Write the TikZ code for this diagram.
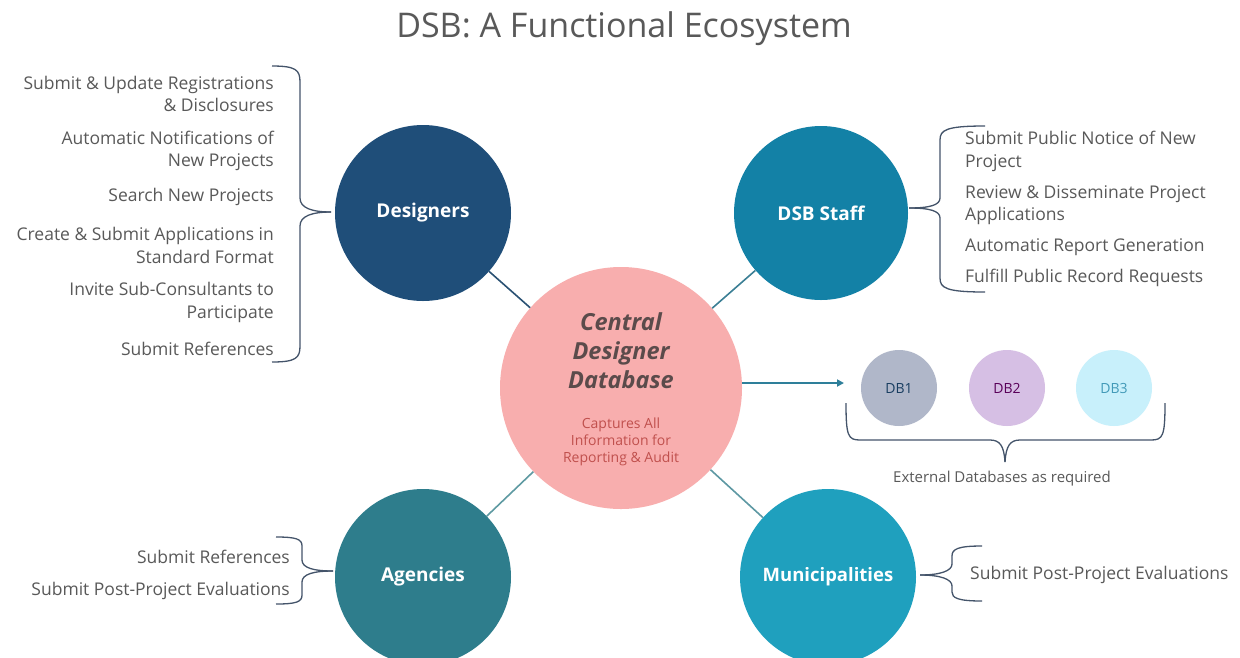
\documentclass[tikz,border=0pt]{standalone}
\usepackage{fontspec}
\setmainfont{Open Sans}
\usetikzlibrary{arrows.meta}
\definecolor{txt}{HTML}{595959}
\definecolor{cDes}{HTML}{1F4E79}
\definecolor{cStaff}{HTML}{1381A6}
\definecolor{cAg}{HTML}{2E7D8C}
\definecolor{cMun}{HTML}{1FA0BE}
\definecolor{cCen}{HTML}{F8AEAE}
\definecolor{cDbA}{HTML}{B0B7C9}
\definecolor{cDbB}{HTML}{D6BFE4}
\definecolor{cDbC}{HTML}{C8F0FB}
\definecolor{brc}{HTML}{44546A}
\definecolor{cenTxt}{HTML}{5B4B4B}
\definecolor{cenSub}{HTML}{C0504D}
\definecolor{lnDes}{HTML}{2A5173}
\definecolor{lnStaff}{HTML}{3B7F95}
\definecolor{lnAg}{HTML}{5E9AA2}
\definecolor{lnMun}{HTML}{5D98A3}
\definecolor{arr}{HTML}{2E7F9A}
\tikzset{
  hub/.style={circle,minimum size=176pt,inner sep=0pt,text=white,font=\fontsize{19}{22}\selectfont\bfseries},
  dbc/.style={circle,minimum size=76pt,inner sep=0pt,font=\fontsize{14}{16}\selectfont},
  itemL/.style={anchor=east,align=right,inner sep=0pt,text=txt,font=\fontsize{17.5}{22.5}\selectfont},
  itemR/.style={anchor=west,align=left,inner sep=0pt,text=txt,font=\fontsize{17.5}{22.5}\selectfont},
  spoke/.style={line width=1.6pt},
  brace/.style={draw=brc,line width=1.3pt},
}
\begin{document}
\begin{tikzpicture}[x=1pt,y=-1pt]
\useasboundingbox[fill=white] (0,0) rectangle (1240,657);
\node[text=txt,font=\fontsize{34}{38}\selectfont] (title) at (624,29) {DSB: A Functional Ecosystem};

% circles
\node[circle,fill=cCen,minimum size=242pt,inner sep=0pt] (cdb) at (621,388) {};
\node[hub,fill=cDes] (des) at (423,213) {Designers};
\node[hub,fill=cStaff,minimum size=174pt] (staff) at (821,213) {DSB Staff};
\node[hub,fill=cAg] (ag) at (423,577) {Agencies};
\node[hub,fill=cMun,font=\fontsize{18.5}{22}\selectfont\bfseries] (mun) at (828,577) {Municipalities};
\node[align=center,text=cenTxt,font=\fontsize{23.5}{29}\selectfont\bfseries\itshape] (cdbT) at (621,351) {Central\\Designer\\Database};
\node[align=center,text=cenSub,font=\fontsize{14}{17}\selectfont] (cdbS) at (621,442) {Captures All\\Information for\\Reporting \& Audit};

% spokes
\draw[spoke,draw=lnDes] (des) -- (cdb);
\draw[spoke,draw=lnStaff] (staff) -- (cdb);
\draw[spoke,draw=lnAg] (ag) -- (cdb);
\draw[spoke,draw=lnMun] (mun) -- (cdb);

% external DBs
\node[dbc,fill=cDbA,text=cDes!80!black] (db1) at (899,388) {DB1};
\node[dbc,fill=cDbB,text=violet!70!black] (db2) at (1007,388) {DB2};
\node[dbc,fill=cDbC,text=cStaff!80] (db3) at (1114,388) {DB3};
\coordinate (arrS) at (742,383);
\coordinate (arrE) at (844,383);
\draw[arr,line width=2pt,-{Triangle[length=7pt,width=7pt]}] (arrS) -- (arrE);
\node[text=txt,font=\fontsize{15}{18}\selectfont] (extT) at (1002,479) {External Databases as required};
\draw[brace] (846,403) .. controls (846,436) and (848,440) .. (860,440) -- (990,440) .. controls (1000,440) and (1004,446) .. (1005,462);
\draw[brace] (1165,403) .. controls (1165,436) and (1163,440) .. (1151,440) -- (1020,440) .. controls (1010,440) and (1006,446) .. (1005,462);

% designers items
\node[itemL] (d1) at (274,94) {Submit \& Update Registrations\\\& Disclosures};
\node[itemL] (d2) at (274,151) {Automatic Notifications of\\New Projects};
\node[itemL] (d3) at (274,197) {Search New Projects};
\node[itemL] (d4) at (274,245.5) {Create \& Submit Applications in\\Standard Format};
\node[itemL] (d5) at (274,302.5) {Invite Sub-Consultants to\\Participate};
\node[itemL] (d6) at (274,349) {Submit References};
\coordinate (bDes) at (331,212);
\draw[brace] (272,66) .. controls (296,66) and (300,70) .. (300,82) -- (300,198) .. controls (300,208) and (312,212) .. (bDes);
\draw[brace] (272,362) .. controls (296,362) and (300,358) .. (300,346) -- (300,226) .. controls (300,216) and (312,212) .. (bDes);

% staff items
\node[itemR] (s1) at (965,151.5) {Submit Public Notice of New\\Project};
\node[itemR] (s2) at (965,205) {Review \& Disseminate Project\\Applications};
\node[itemR] (s3) at (965,247) {Automatic Report Generation};
\node[itemR] (s4) at (965,278) {Fulfill Public Record Requests};
\coordinate (bStaff) at (909,208);
\draw[brace] (985,126) .. controls (946,126) and (940,130) .. (940,140) -- (940,198) .. controls (940,205) and (930,208) .. (bStaff);
\draw[brace] (985,292) .. controls (946,292) and (940,288) .. (940,278) -- (940,218) .. controls (940,211) and (930,208) .. (bStaff);

% agencies items
\node[itemL] (a1) at (290,557) {Submit References};
\node[itemL] (a2) at (290,591) {Submit Post-Project Evaluations};
\coordinate (bAg) at (333,571);
\draw[brace] (276,537) .. controls (296,537) and (302,539) .. (302,546) -- (302,560) .. controls (302,568) and (314,571) .. (bAg);
\draw[brace] (276,604) .. controls (296,604) and (302,602) .. (302,595) -- (302,582) .. controls (302,574) and (314,571) .. (bAg);

% municipalities items
\node[itemR] (m1) at (970,575) {Submit Post-Project Evaluations};
\coordinate (bMun) at (920,575);
\draw[brace] (982,546) .. controls (958,546) and (952,549) .. (952,556) -- (952,564) .. controls (952,571) and (940,575) .. (bMun);
\draw[brace] (982,601) .. controls (958,601) and (952,598) .. (952,592) -- (952,586) .. controls (952,579) and (940,575) .. (bMun);
\end{tikzpicture}
\end{document}
